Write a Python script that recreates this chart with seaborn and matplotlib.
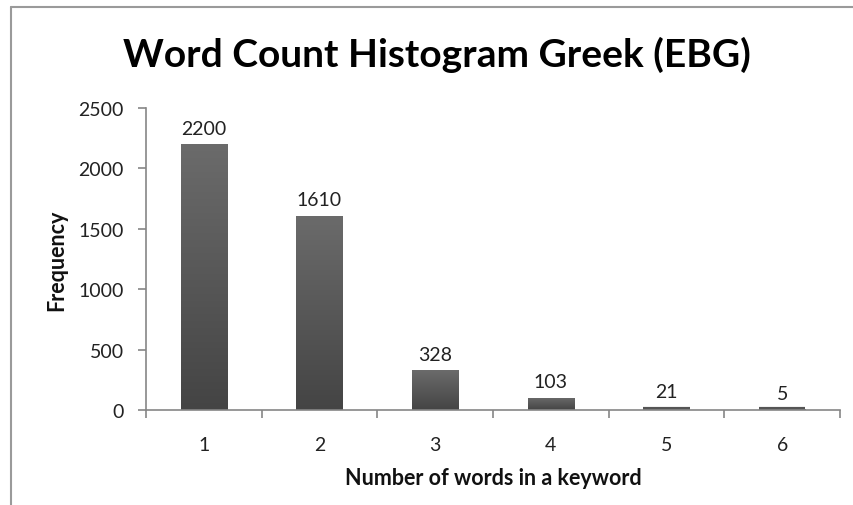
import numpy as np
import pandas as pd
import matplotlib
matplotlib.use("Agg")
import matplotlib.pyplot as plt
from matplotlib.lines import Line2D
import seaborn as sns

categories = ["1", "2", "3", "4", "5", "6"]
frequencies = [2200, 1610, 328, 103, 21, 5]
y_ticks = [0, 500, 1000, 1500, 2000, 2500]

title = "Word Count Histogram Greek (EBG)"
x_label = "Number of words in a keyword"
y_label = "Frequency"

sns.set_style("white")
plt.rcParams["font.family"] = ["Lato", "DejaVu Sans"]

df = pd.DataFrame({"words": categories, "freq": frequencies})

fig = plt.figure(figsize=(8.54, 5.06), dpi=100)
ax = fig.add_axes([146 / 854, 1 - 411 / 506, (840 - 146) / 854, (411 - 109) / 506])

sns.barplot(data=df, x="words", y="freq", color="#555555", width=0.4, ax=ax,
            saturation=1, edgecolor="none")

# vertical gradient on bars
grad = np.linspace(0, 1, 256).reshape(-1, 1)
cmap = matplotlib.colors.LinearSegmentedColormap.from_list("g", ["#444444", "#6b6b6b"])
for p in ax.patches:
    x0, y0 = p.get_x(), p.get_y()
    w, h = p.get_width(), p.get_height()
    if h <= 0:
        continue
    im = ax.imshow(grad, extent=[x0, x0 + w, y0, y0 + h], origin="lower",
                   cmap=cmap, aspect="auto", zorder=p.get_zorder() + 0.1)
    im.set_clip_path(p)
    if h < 40:
        ax.plot([x0, x0 + w], [12, 12], color="#555555", lw=3, solid_capstyle="butt",
                zorder=p.get_zorder() + 0.2)

ax.set_xlim(-0.5, len(categories) - 0.5)
ax.set_ylim(0, 2500)
ax.set_yticks(y_ticks)
ax.set_yticklabels([str(v) for v in y_ticks], fontsize=14, color="#222222")

# category labels centered; ticks at category boundaries
ax.set_xticks(range(len(categories)))
ax.set_xticklabels(categories, fontsize=14, color="#222222")
ax.tick_params(axis="x", length=0, pad=19)
ax.set_xticks(np.arange(-0.5, len(categories), 1.0), minor=True)
ax.tick_params(axis="x", which="minor", length=6, color="#868686", width=1.2, direction="out")
ax.tick_params(axis="y", length=6, color="#868686", width=1.2, direction="out", pad=10)
ax.tick_params(axis="y", which="both", left=True)
ax.tick_params(axis="x", which="minor", bottom=True)

for s in ["top", "right"]:
    ax.spines[s].set_visible(False)
for s in ["left", "bottom"]:
    ax.spines[s].set_color("#868686")
    ax.spines[s].set_linewidth(1.2)

for i, v in enumerate(frequencies):
    ax.text(i, v + 60, str(v), ha="center", va="bottom", fontsize=14, color="#222222")

ax.set_xlabel(x_label, fontsize=15.5, fontweight="bold", labelpad=10, color="#111111")
ax.set_ylabel(y_label, fontsize=15.5, fontweight="bold", labelpad=8, color="#111111")

fig.text(437 / 854, 1 - 55 / 506, title, ha="center", va="center",
         fontsize=28, fontweight="bold", color="#000000")

# chart frame (top and left edges visible)
fig.add_artist(Line2D([11 / 854, 11 / 854], [0, 1 - 8 / 506], transform=fig.transFigure,
                      color="#9a9a9a", lw=1.5))
fig.add_artist(Line2D([11 / 854, 1], [1 - 8 / 506, 1 - 8 / 506], transform=fig.transFigure,
                      color="#9a9a9a", lw=1.5))

fig.savefig("out.png", dpi=100)
